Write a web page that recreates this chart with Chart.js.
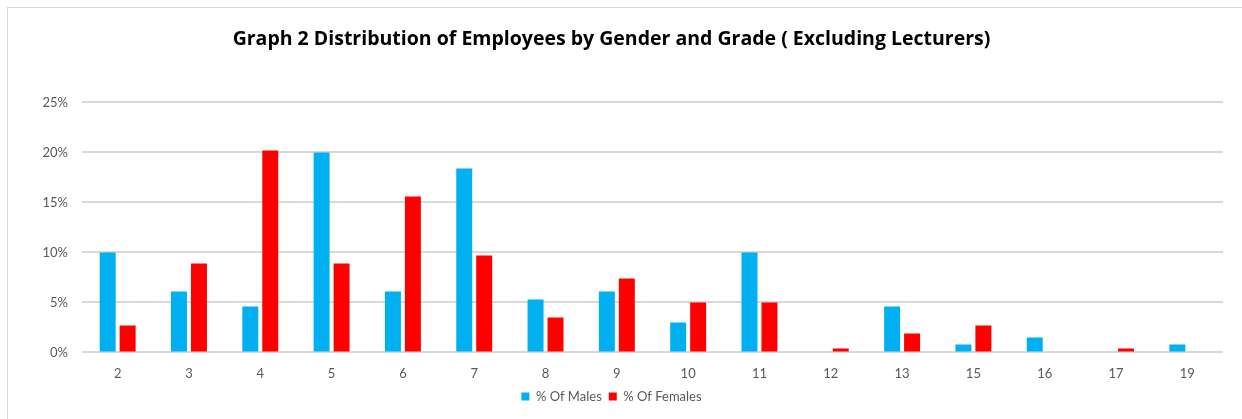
<!DOCTYPE html>
<html>
<head>
<meta charset="utf-8">
<script src="https://cdn.jsdelivr.net/npm/chart.js@4.4.1/dist/chart.umd.min.js"></script>
<style>
  html, body { margin: 0; padding: 0; background: #fff; }
  #wrap { position: relative; width: 1242px; height: 419px; overflow: hidden; }
  #frame { position: absolute; left: 7px; top: 7px; width: 1250px; height: 430px; border: 1px solid #d9d9d9; box-sizing: border-box; }
  canvas { position: absolute; left: 0; top: 0; }
</style>
</head>
<body>
<div id="wrap">
  <div id="frame"></div>
  <canvas id="chart" width="1242" height="419"></canvas>
</div>
<script>
const grades = ['2', '3', '4', '5', '6', '7', '8', '9', '10', '11', '12', '13', '15', '16', '17', '19'];
const males = [10.0, 6.1, 4.6, 20.0, 6.1, 18.4, 5.3, 6.1, 3.0, 10.0, 0, 4.6, 0.8, 1.5, 0, 0.8];
const females = [2.7, 8.9, 20.2, 8.9, 15.6, 9.7, 3.5, 7.4, 5.0, 5.0, 0.4, 1.9, 2.7, 0, 0.4, 0];
const yTicks = [0, 5, 10, 15, 20, 25];

const COLORS = {
  male: '#00b0f0',
  female: '#ff0000',
  grid: '#d9d9d9',
  text: '#595959',
};

const FONT = 'Lato, "Open Sans", sans-serif';

new Chart(document.getElementById('chart').getContext('2d'), {
  type: 'bar',
  data: {
    labels: grades,
    datasets: [
      {
        label: '% Of Males',
        data: males,
        backgroundColor: COLORS.male,
        categoryPercentage: 0.56,
        barPercentage: 0.8,
      },
      {
        label: '% Of Females',
        data: females,
        backgroundColor: COLORS.female,
        categoryPercentage: 0.56,
        barPercentage: 0.8,
      },
    ],
  },
  options: {
    responsive: false,
    animation: false,
    layout: { padding: { left: 0, right: 19, top: 28, bottom: 6 } },
    plugins: {
      title: {
        display: true,
        text: 'Graph 2 Distribution of Employees by Gender and Grade ( Excluding Lecturers)',
        color: '#000',
        font: { family: '"Open Sans", sans-serif', size: 19.5, weight: 'bold' },
        padding: { top: 0, bottom: 51 },
      },
      legend: {
        position: 'bottom',
        labels: {
          boxWidth: 8,
          boxHeight: 8,
          padding: 7,
          color: COLORS.text,
          font: { family: FONT, size: 13 },
        },
      },
      tooltip: { enabled: false },
    },
    scales: {
      x: {
        afterFit: (scale) => { scale.height -= 5; },
        grid: { display: false },
        border: { display: false },
        ticks: { color: COLORS.text, font: { family: FONT, size: 13 }, padding: 6 },
      },
      y: {
        min: 0,
        max: 25,
        afterFit: (scale) => { scale.width = 82; },
        afterBuildTicks: (scale) => { scale.ticks = yTicks.map((v) => ({ value: v })); },
        grid: { color: COLORS.grid, lineWidth: 2, drawTicks: false },
        border: { display: false },
        ticks: {
          color: COLORS.text,
          font: { family: FONT, size: 13 },
          padding: 14,
          callback: (val) => val + '%',
        },
      },
    },
  },
});
</script>
</body>
</html>
